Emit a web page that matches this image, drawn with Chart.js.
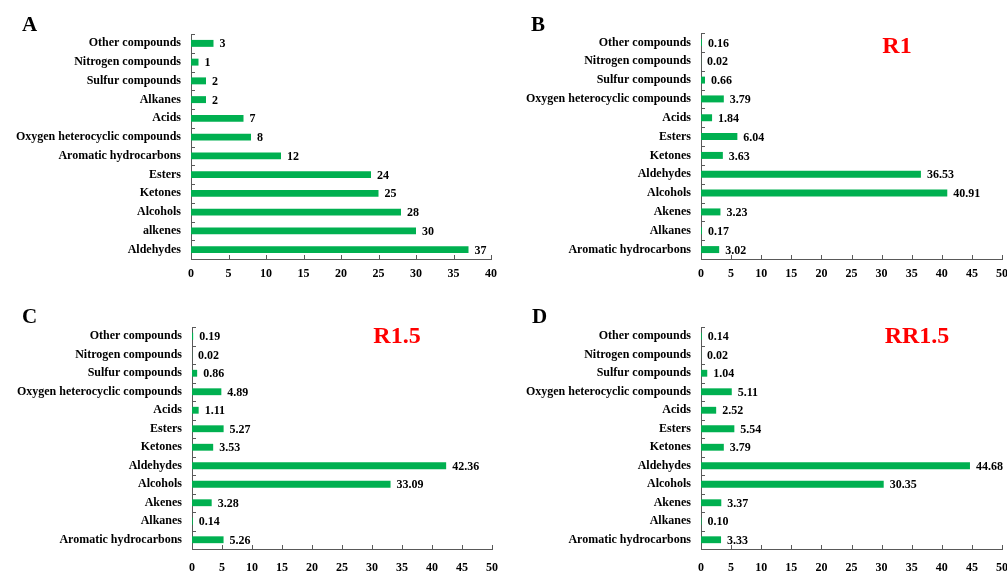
<!DOCTYPE html>
<html>
<head>
<meta charset="utf-8">
<script src="https://cdn.jsdelivr.net/npm/chart.js@4/dist/chart.umd.min.js"></script>
<style>
  html, body { margin: 0; padding: 0; background: #fff; }
  #wrap { position: relative; width: 1007px; height: 572px; background: #fff; overflow: hidden; }
  .panel { position: absolute; }
  .panel canvas { display: block; }
  .letter { position: absolute; font-family: "Liberation Serif", "Times New Roman", serif; font-weight: bold; font-size: 21px; line-height: 21px; color: #000; }
  .tag { position: absolute; font-family: "Liberation Serif", "Times New Roman", serif; font-weight: bold; font-size: 24px; line-height: 24px; color: #ff0000; transform: translateX(-50%); white-space: nowrap; }
</style>
</head>
<body>
<div id="wrap">
  <div class="panel" style="left:0;top:0;"><canvas id="cA" width="500" height="286"></canvas></div>
  <div class="panel" style="left:500px;top:0;"><canvas id="cB" width="507" height="286"></canvas></div>
  <div class="panel" style="left:0;top:290px;"><canvas id="cC" width="500" height="282"></canvas></div>
  <div class="panel" style="left:500px;top:290px;"><canvas id="cD" width="507" height="282"></canvas></div>
  <div class="letter" style="left:22px;top:14px;">A</div>
  <div class="letter" style="left:531px;top:14px;">B</div>
  <div class="letter" style="left:22px;top:306px;">C</div>
  <div class="letter" style="left:532px;top:306px;">D</div>
  <div class="tag" style="left:897px;top:33px;">R1</div>
  <div class="tag" style="left:397px;top:323px;">R1.5</div>
  <div class="tag" style="left:917px;top:323px;">RR1.5</div>
</div>
<script>
// ---- Data ----
const categoriesA = ["Other compounds", "Nitrogen compounds", "Sulfur compounds", "Alkanes", "Acids",
  "Oxygen heterocyclic compounds", "Aromatic hydrocarbons", "Esters", "Ketones", "Alcohols", "alkenes", "Aldehydes"];
const valuesA = [3, 1, 2, 2, 7, 8, 12, 24, 25, 28, 30, 37];

const categoriesBCD = ["Other compounds", "Nitrogen compounds", "Sulfur compounds", "Oxygen heterocyclic compounds",
  "Acids", "Esters", "Ketones", "Aldehydes", "Alcohols", "Akenes", "Alkanes", "Aromatic hydrocarbons"];
const valuesB = [0.16, 0.02, 0.66, 3.79, 1.84, 6.04, 3.63, 36.53, 40.91, 3.23, 0.17, 3.02];
const valuesC = [0.19, 0.02, 0.86, 4.89, 1.11, 5.27, 3.53, 42.36, 33.09, 3.28, 0.14, 5.26];
const valuesD = [0.14, 0.02, 1.04, 5.11, 2.52, 5.54, 3.79, 44.68, 30.35, 3.37, 0.10, 3.33];

const xMaxA = 40;
const xMaxBCD = 50;
const xStep = 5;

// ---- Styles ----
const FONT = '"Liberation Serif", "Times New Roman", serif';
const BAR = '#00B050';
const AXIS = '#595959';

const insideTicks = {
  id: 'insideTicks',
  afterDraw(chart) {
    const { ctx, chartArea: { left, bottom }, scales: { x, y } } = chart;
    ctx.save();
    ctx.strokeStyle = AXIS;
    ctx.lineWidth = 1;
    ctx.beginPath();
    x.ticks.forEach(t => {
      const px = Math.round(x.getPixelForValue(t.value)) + 0.5;
      ctx.moveTo(px, bottom);
      ctx.lineTo(px, bottom - 4);
    });
    const n = y.ticks.length;
    for (let i = 0; i <= n; i++) {
      const py = Math.round(y.getPixelForValue(i - 0.5)) + 0.5;
      ctx.moveTo(left, py);
      ctx.lineTo(left + 4, py);
    }
    ctx.stroke();
    ctx.restore();
  }
};

const valueLabels = {
  id: 'valueLabels',
  afterDatasetsDraw(chart, args, opts) {
    const { ctx } = chart;
    const ds = chart.data.datasets[0];
    const meta = chart.getDatasetMeta(0);
    ctx.save();
    ctx.font = 'bold 12px ' + FONT;
    ctx.fillStyle = '#000';
    ctx.textAlign = 'left';
    ctx.textBaseline = 'middle';
    meta.data.forEach((bar, i) => {
      const v = ds.data[i];
      const txt = opts.decimals ? v.toFixed(opts.decimals) : String(v);
      ctx.fillText(txt, bar.x + 6, bar.y + 1);
    });
    ctx.restore();
  }
};

function makeChart(id, labels, values, xMax, yWidth, padTop, padRight, xHeight, xPad, decimals) {
  return new Chart(document.getElementById(id), {
    type: 'bar',
    data: {
      labels: labels,
      datasets: [{
        data: values,
        backgroundColor: BAR,
        borderWidth: 0,
        barPercentage: 0.37,
        categoryPercentage: 1.0
      }]
    },
    options: {
      indexAxis: 'y',
      responsive: false,
      animation: false,
      layout: { padding: { top: padTop, right: padRight, left: 0, bottom: 0 } },
      plugins: {
        legend: { display: false },
        tooltip: { enabled: false },
        valueLabels: { decimals: decimals }
      },
      scales: {
        y: {
          type: 'category',
          afterFit(s) { s.width = yWidth; s.paddingTop = 0; s.paddingBottom = 0; },
          grid: { display: false, drawTicks: false },
          border: { display: true, color: AXIS, width: 1 },
          ticks: { color: '#000', padding: 10, font: { family: FONT, size: 12, weight: 'bold' }, autoSkip: false }
        },
        x: {
          min: 0,
          max: xMax,
          afterFit(s) { s.height = xHeight; s.paddingLeft = 0; s.paddingRight = 0; },
          grid: { display: false, drawTicks: false },
          border: { display: true, color: AXIS, width: 1 },
          ticks: { stepSize: xStep, color: '#000', padding: xPad, maxRotation: 0, font: { family: FONT, size: 12, weight: 'bold' } }
        }
      }
    },
    plugins: [insideTicks, valueLabels]
  });
}

makeChart('cA', categoriesA, valuesA, xMaxA, 191, 34, 9, 27, 8, 0);
makeChart('cB', categoriesBCD, valuesB, xMaxBCD, 201, 33, 5, 27, 8, 2);
makeChart('cC', categoriesBCD, valuesC, xMaxBCD, 192, 37, 8, 23, 12, 2);
makeChart('cD', categoriesBCD, valuesD, xMaxBCD, 201, 37, 5, 23, 12, 2);
</script>
</body>
</html>
